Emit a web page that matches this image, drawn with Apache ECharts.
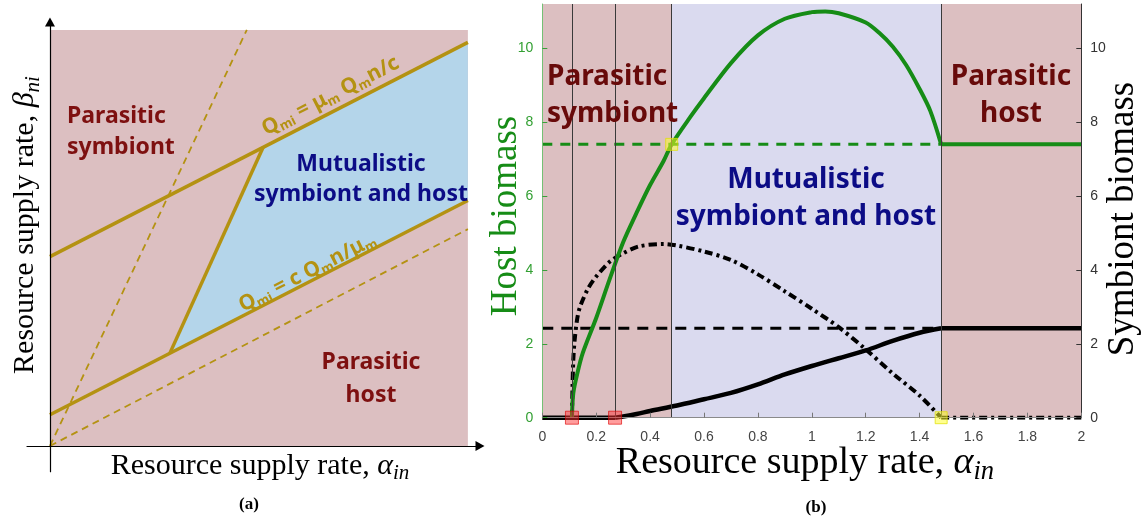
<!DOCTYPE html>
<html><head><meta charset="utf-8">
<script src="https://cdn.jsdelivr.net/npm/echarts@6/dist/echarts.min.js"></script>
<style>html,body{margin:0;padding:0;background:#fff}#c{width:1144px;height:529px}</style>
</head><body><div id="c"></div>
<script>
// ---------- Panel (a): schematic diagram, units 0..10 on both axes ----------
const diagramFrame = [[0, 0], [10, 10]];
const upperBoundary = [[0, 4.55], [10, 9.7]];
const lowerBoundary = [[0, 0.75], [10, 5.9]];
const connector = [[5.1, 7.18], [2.87, 2.23]];
const steepDashed = [[0, 0], [4.71, 10]];
const shallowDashed = [[0, 0], [10, 5.21]];
const mutualRegion = [[5.1, 7.18], [10, 9.7], [10, 5.9], [2.87, 2.23]];

// ---------- Panel (b) ----------
const alphaTicks = [0, 0.2, 0.4, 0.6, 0.8, 1, 1.2, 1.4, 1.6, 1.8, 2];
const regionBreaks = [0.11, 0.27, 0.48, 1.48];
const hostCritical = 7.4;
const symbiontCritical = 2.42;

const hostAlpha   = [0.11, 0.115, 0.13, 0.15, 0.2, 0.25, 0.3, 0.35, 0.4, 0.45, 0.48, 0.55, 0.6, 0.7, 0.8, 0.9, 1.0, 1.05, 1.1, 1.2, 1.25, 1.3, 1.35, 1.4, 1.44, 1.48];
const hostBiomass = [0, 0.66, 1.2, 1.75, 2.7, 3.75, 4.75, 5.55, 6.3, 6.95, 7.4, 8.15, 8.65, 9.6, 10.35, 10.8, 10.98, 11.0, 10.95, 10.7, 10.42, 10.05, 9.55, 8.9, 8.3, 7.4];
const hostPlateauAlpha = [1.48, 2.0];

const dashDotAlpha = [0.11, 0.112, 0.115, 0.12, 0.13, 0.14, 0.17, 0.2, 0.25, 0.3, 0.36, 0.45, 0.5, 0.6, 0.7, 0.8, 0.9, 1.0, 1.1, 1.2, 1.3, 1.4, 1.48];
const dashDotSymbiont = [0, 0.8, 1.56, 2.1, 2.7, 3.0, 3.5, 3.82, 4.22, 4.45, 4.64, 4.70, 4.66, 4.5, 4.27, 3.88, 3.42, 2.95, 2.45, 1.85, 1.2, 0.6, 0];
const dashDotTailAlpha = [1.48, 2.0];

const symbiontZeroAlpha = [0, 0.27];
const symbiontAlpha   = [0.27, 0.3, 0.35, 0.4, 0.5, 0.6, 0.7, 0.8, 0.9, 1.0, 1.1, 1.2, 1.3, 1.4, 1.48];
const symbiontBiomass = [0, 0.03, 0.1, 0.18, 0.33, 0.5, 0.67, 0.9, 1.17, 1.4, 1.61, 1.82, 2.08, 2.3, 2.42];
const symbiontPlateauAlpha = [1.48, 2.0];

const redMarkers = [[0.11, 0], [0.27, 0]];
const yellowMarkers = [[0.48, 7.4], [1.48, 0]];

const PINK = '#dcbfc1', LAV = '#dadaef', BLUE = '#b4d5ea', GOLD = '#b49212';
const DARKRED = '#7e1010', DARKRED_B = '#680a0a', NAVY = '#0c0c86', GREEN = '#168c16';
const SERIF = 'Liberation Serif', SANS = 'Noto Sans';

const pair = (xs, ys) => xs.map((x, i) => [x, ys[i]]);
const flat = (xs, v) => xs.map(x => [x, v]);

const chart = echarts.init(document.getElementById('c'));

function seg(data, style, xi, yi, smooth) {
  return {type: 'line', xAxisIndex: xi, yAxisIndex: yi, data, symbol: 'none', silent: true,
          smooth: smooth || false, lineStyle: style, z: 3, animation: false};
}

const goldSolid = {color: GOLD, width: 3.5};
const goldDash = {color: GOLD, width: 1.8, type: [7, 5]};
const dashDot = {color: '#000', width: 4, type: [8, 4, 3, 4]};

function axisTitle(x, y, text, size, color, rot, sub) {
  return {type: 'text', x, y, rotation: rot || 0, z: 50,
    style: {text: '{t|' + text + '}{a|' + sub[0] + '}{s|' + sub[1] + '}',
      align: 'center', verticalAlign: 'middle', textAlign: 'center', textVerticalAlign: 'middle',
      rich: {
        t: {fontFamily: SERIF, fontSize: size, lineHeight: size * 1.2, fill: color, color},
        a: {fontFamily: SERIF, fontStyle: 'italic', fontSize: size, lineHeight: size * 1.2, fill: color, color},
        s: {fontFamily: SERIF, fontStyle: 'italic', fontSize: size * 0.7, lineHeight: size * 0.8, verticalAlign: 'bottom', fill: color, color}
      }}};
}
function plainText(x, y, text, font, color, align, lh, rot) {
  return {type: 'text', x, y, rotation: rot || 0, z: 50,
    style: {text, font, fill: color, align: align || 'center', textAlign: align || 'center',
      verticalAlign: 'middle', textVerticalAlign: 'middle', lineHeight: lh}};
}
function formula(x, y, text, rot) {
  const q = {fontFamily: SANS, fontWeight: 'bold', fontSize: 21, lineHeight: 24, fill: GOLD, color: GOLD};
  const s = {fontFamily: SANS, fontWeight: 'bold', fontSize: 13, lineHeight: 14, verticalAlign: 'bottom', fill: GOLD, color: GOLD};
  return {type: 'text', x, y, rotation: rot, z: 50,
    style: {text, align: 'center', verticalAlign: 'middle', textAlign: 'center', textVerticalAlign: 'middle', rich: {q, s}}};
}
const slopeAngle = Math.atan(0.5095);

const option = {
  animation: false,
  grid: [
    {left: 27, right: 664, top: 22, bottom: 57.3},
    {left: 542.3, right: 62.7, top: 4, bottom: 111.3}
  ],
  xAxis: [
    {gridIndex: 0, type: 'value', min: -0.55, max: 10.29, z: 5,
     axisLine: {show: true, onZero: true, symbol: ['none', 'triangle'], symbolSize: [10, 9], lineStyle: {color: '#000', width: 1.2}},
     axisTick: {show: false}, axisLabel: {show: false}, splitLine: {show: false}},
    {gridIndex: 1, type: 'value', min: 0, max: 2, interval: 0.2, z: 5,
     axisLine: {show: true, onZero: false, lineStyle: {color: '#8a8a8a', width: 1}},
     axisTick: {show: true, inside: true, length: 5, lineStyle: {color: '#777'}},
     axisLabel: {color: '#444', fontSize: 14, fontFamily: 'Liberation Sans', margin: 12},
     splitLine: {show: false}}
  ],
  yAxis: [
    {gridIndex: 0, type: 'value', min: -0.62, max: 10.19, z: 5,
     axisLine: {show: true, onZero: true, symbol: ['none', 'triangle'], symbolSize: [10, 9], lineStyle: {color: '#000', width: 1.2}},
     axisTick: {show: false}, axisLabel: {show: false}, splitLine: {show: false}},
    {gridIndex: 1, type: 'value', min: 0, max: 11.2, interval: 2, position: 'left', z: 5,
     axisLine: {show: true, onZero: false, lineStyle: {color: '#74c074', width: 1}},
     axisTick: {show: true, inside: true, length: 5, lineStyle: {color: '#3a9e3a'}},
     axisLabel: {showMaxLabel: false, color: '#33a033', fontSize: 14, fontFamily: 'Liberation Sans', margin: 9},
     splitLine: {show: false}},
    {gridIndex: 1, type: 'value', min: 0, max: 11.2, interval: 2, position: 'right', z: 5,
     axisLine: {show: true, onZero: false, lineStyle: {color: '#333', width: 1}},
     axisTick: {show: true, inside: true, length: 5, lineStyle: {color: '#333'}},
     axisLabel: {showMaxLabel: false, color: '#333', fontSize: 14, fontFamily: 'Liberation Sans', margin: 9},
     splitLine: {show: false}}
  ],
  series: [
    // panel (a)
    {type: 'line', xAxisIndex: 0, yAxisIndex: 0, data: diagramFrame, symbol: 'none', lineStyle: {opacity: 0}, z: 1, silent: true,
     markArea: {silent: true, itemStyle: {color: PINK}, data: [[{coord: diagramFrame[0]}, {coord: diagramFrame[1]}]]}},
    {type: 'custom', xAxisIndex: 0, yAxisIndex: 0, data: [mutualRegion[0]], z: 2, silent: true,
     renderItem: (params, api) => ({type: 'polygon', shape: {points: mutualRegion.map(p => api.coord(p))}, style: {fill: BLUE}})},
    seg(steepDashed, goldDash, 0, 0),
    seg(shallowDashed, goldDash, 0, 0),
    seg(upperBoundary, goldSolid, 0, 0),
    seg(lowerBoundary, goldSolid, 0, 0),
    seg(connector, goldSolid, 0, 0),
    // panel (b) backgrounds
    {type: 'line', xAxisIndex: 1, yAxisIndex: 1, data: [[0, 0]], symbol: 'none', lineStyle: {opacity: 0}, z: 1, silent: true,
     markArea: {silent: true, data: [
       [{xAxis: 0, itemStyle: {color: PINK}}, {xAxis: regionBreaks[2]}],
       [{xAxis: regionBreaks[2], itemStyle: {color: LAV}}, {xAxis: regionBreaks[3]}],
       [{xAxis: regionBreaks[3], itemStyle: {color: PINK}}, {xAxis: 2}]]}},
    {type: 'line', xAxisIndex: 1, yAxisIndex: 1, data: [[0, 0]], symbol: 'none', lineStyle: {opacity: 0}, z: 2, silent: true,
     markLine: {silent: true, symbol: 'none', label: {show: false}, lineStyle: {color: '#3a3a3a', width: 1, type: 'solid'},
       data: regionBreaks.map(v => ({xAxis: v}))}},
    // panel (b) curves
    seg(flat([0, regionBreaks[3]], hostCritical), {color: GREEN, width: 3, type: [10, 8]}, 1, 1),
    seg(flat([0, regionBreaks[3]], symbiontCritical), {color: '#000', width: 3, type: [11, 8]}, 1, 2),
    seg(pair(dashDotAlpha, dashDotSymbiont), dashDot, 1, 2, 0.3),
    seg(flat(dashDotTailAlpha, 0), dashDot, 1, 2),
    seg(flat(symbiontZeroAlpha, 0), {color: '#000', width: 4.5}, 1, 2),
    seg(pair(symbiontAlpha, symbiontBiomass), {color: '#000', width: 4.5}, 1, 2, 0.3),
    seg(flat(symbiontPlateauAlpha, symbiontCritical), {color: '#000', width: 4.5}, 1, 2),
    seg(pair(hostAlpha, hostBiomass), {color: GREEN, width: 4}, 1, 1, 0.3),
    seg(flat(hostPlateauAlpha, hostCritical), {color: GREEN, width: 4}, 1, 1),
    {type: 'scatter', xAxisIndex: 1, yAxisIndex: 1, data: redMarkers, symbol: 'rect', symbolSize: 13, z: 6, silent: true,
     itemStyle: {color: 'rgba(255,50,50,0.6)', borderColor: 'rgba(220,0,0,0.8)', borderWidth: 1}},
    {type: 'scatter', xAxisIndex: 1, yAxisIndex: 1, data: yellowMarkers, symbol: 'rect', symbolSize: 12, z: 6, silent: true,
     itemStyle: {color: 'rgba(255,255,40,0.65)', borderColor: 'rgba(225,225,0,0.9)', borderWidth: 1}}
  ],
  graphic: {elements: [
    // panel (a) text
    plainText(67, 131.5, 'Parasitic\nsymbiont', 'bold 23px "Noto Sans"', DARKRED, 'left', 31),
    plainText(361, 179.5, 'Mutualistic\nsymbiont and host', 'bold 23px "Noto Sans"', NAVY, 'center', 30),
    plainText(371, 378.5, 'Parasitic\nhost', 'bold 23px "Noto Sans"', DARKRED, 'center', 33),
    formula(330.5, 96, '{q|Q}{s|mi}{q| = μ}{s|m}{q| Q}{s|m}{q|n/c}', slopeAngle),
    formula(307.5, 272.5, '{q|Q}{s|mi}{q| = c Q}{s|m}{q|n/μ}{s|m}', slopeAngle),
    axisTitle(260, 466, 'Resource supply rate, ', 30, '#000', 0, ['α', 'in']),
    axisTitle(25.5, 225, 'Resource supply rate, ', 30, '#000', Math.PI / 2, ['β', 'ni']),
    plainText(249, 505, '(a)', 'bold 17px "Liberation Serif"', '#000'),
    // panel (b) text
    plainText(547, 95.5, 'Parasitic\nsymbiont', 'bold 28px "Noto Sans"', DARKRED_B, 'left', 36.5),
    plainText(806, 198.3, 'Mutualistic\nsymbiont and host', 'bold 28px "Noto Sans"', NAVY, 'center', 36.5),
    plainText(1011, 95.5, 'Parasitic\nhost', 'bold 28px "Noto Sans"', DARKRED_B, 'center', 36.5),
    axisTitle(805, 463, 'Resource supply rate, ', 38, '#000', 0, ['α', 'in']),
    plainText(506, 216, 'Host biomass', '37px "Liberation Serif"', GREEN, 'center', 40, Math.PI / 2),
    plainText(1123, 219, 'Symbiont biomass', '37px "Liberation Serif"', '#000', 'center', 40, Math.PI / 2),
    plainText(816, 508, '(b)', 'bold 17px "Liberation Serif"', '#000')
  ]}
};
chart.setOption(option);
</script>
</body></html>
